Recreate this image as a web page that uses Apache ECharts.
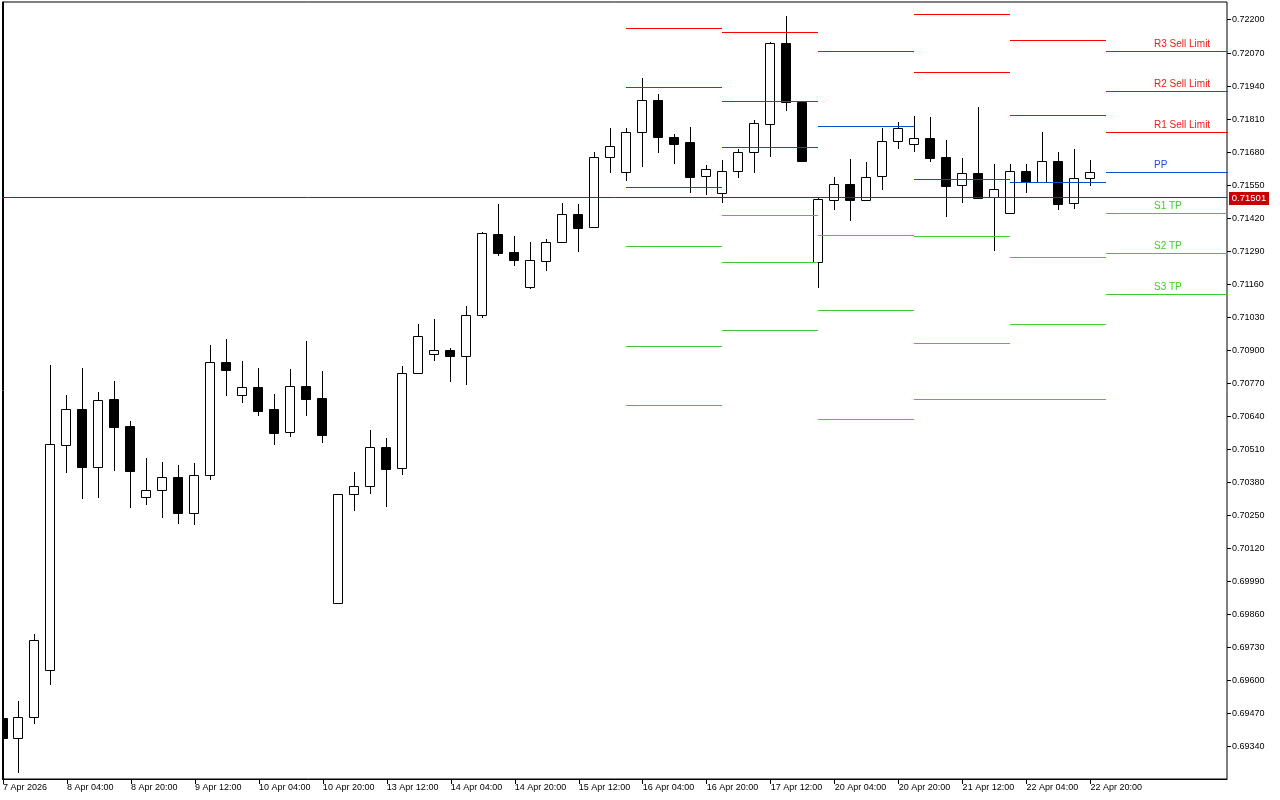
<!DOCTYPE html>
<html>
<head>
<meta charset="utf-8">
<script src="https://cdn.jsdelivr.net/npm/echarts@6/dist/echarts.min.js"></script>
<style>
html,body{margin:0;padding:0;background:#fff;}
#chart{width:1280px;height:800px;}
</style>
</head>
<body>
<div id="chart"></div>
<script>
// H4 bars, index 0 = 7 Apr 2026 12:00
const opens = [0.69453,0.69374,0.69457,0.69642,0.70527,0.70669,0.70443,0.70709,0.70603,0.70322,
  0.70350,0.70402,0.70262,0.70411,0.70853,0.70724,0.70755,0.70669,0.70578,0.70760,
  0.70712,0.69905,0.70334,0.70366,0.70519,0.70436,0.70810,0.70885,0.70901,0.70877,
  0.71038,0.71357,0.71287,0.71151,0.71251,0.71326,0.71436,0.71384,0.71660,0.71601,
  0.71758,0.71884,0.71739,0.71719,0.71585,0.71518,0.71605,0.71680,0.71790,0.72108,
  0.71879,0.71247,0.71491,0.71554,0.71491,0.71585,0.71723,0.71711,0.71735,0.71661,
  0.71550,0.71597,0.71503,0.71440,0.71605,0.71564,0.71644,0.71479,0.71577];
const closes = [0.69374,0.69457,0.69760,0.70531,0.70669,0.70443,0.70704,0.70600,0.70427,0.70350,
  0.70401,0.70262,0.70409,0.70853,0.70824,0.70755,0.70663,0.70576,0.70759,0.70710,
  0.70569,0.70334,0.70366,0.70519,0.70435,0.70810,0.70956,0.70901,0.70879,0.71038,
  0.71361,0.71285,0.71257,0.71255,0.71326,0.71436,0.71383,0.71660,0.71703,0.71758,
  0.71884,0.71739,0.71713,0.71584,0.71613,0.71605,0.71680,0.71794,0.72108,0.71876,
  0.71647,0.71495,0.71554,0.71491,0.71581,0.71723,0.71774,0.71735,0.71658,0.71548,
  0.71597,0.71501,0.71534,0.71605,0.71564,0.71644,0.71477,0.71577,0.71601];
const lows = [0.69374,0.69243,0.69436,0.69589,0.70423,0.70321,0.70325,0.70431,0.70285,0.70297,
  0.70246,0.70222,0.70218,0.70393,0.70726,0.70698,0.70647,0.70533,0.70565,0.70647,
  0.70541,0.69905,0.70274,0.70340,0.70289,0.70415,0.70810,0.70864,0.70781,0.70769,
  0.71033,0.71277,0.71237,0.71147,0.71218,0.71326,0.71292,0.71384,0.71603,0.71572,
  0.71624,0.71682,0.71639,0.71525,0.71517,0.71485,0.71584,0.71603,0.71666,0.71845,
  0.71647,0.71151,0.71458,0.71414,0.71491,0.71536,0.71698,0.71686,0.71647,0.71430,
  0.71485,0.71501,0.71296,0.71440,0.71523,0.71564,0.71458,0.71462,0.71552];
const highs = [0.69453,0.69521,0.69785,0.70843,0.70725,0.70830,0.70737,0.70780,0.70622,0.70477,
  0.70461,0.70449,0.70456,0.70921,0.70945,0.70859,0.70831,0.70729,0.70827,0.70937,
  0.70819,0.70334,0.70421,0.70587,0.70556,0.70839,0.71004,0.71024,0.70909,0.71075,
  0.71365,0.71476,0.71350,0.71327,0.71337,0.71480,0.71476,0.71680,0.71775,0.71775,
  0.71971,0.71909,0.71752,0.71779,0.71630,0.71649,0.71693,0.71807,0.72112,0.72216,
  0.71879,0.71500,0.71582,0.71653,0.71641,0.71775,0.71798,0.71822,0.71818,0.71728,
  0.71657,0.71858,0.71634,0.71634,0.71634,0.71759,0.71681,0.71693,0.71649];

// Daily pivot levels: start bar index of each day, and level values
const pivotDayStart = [39, 45, 51, 57, 63, 69];
const pivotDayEnd   = [45, 51, 57, 63, 69, 80];
const R3 = [0.72562, 0.72330, 0.72801, 0.72642, 0.72384, 0.72077];
const R2 = [0.72167, 0.72152, 0.72506, 0.72220, 0.72120, 0.71920];
const R1 = [0.71935, 0.71880, 0.72077, 0.71995, 0.71825, 0.71758];
const PP = [0.71542, 0.71699, 0.71782, 0.71573, 0.71562, 0.71601];
const S1 = [0.71310, 0.71432, 0.71353, 0.71349, 0.71266, 0.71440];
const S2 = [0.70916, 0.71247, 0.71058, 0.70928, 0.71003, 0.71282];
const S3 = [0.70684, 0.70979, 0.70629, 0.70708, 0.70708, 0.71121];
const levelNames = ['R3 Sell Limit', 'R2 Sell Limit', 'R1 Sell Limit', 'PP', 'S1 TP', 'S2 TP', 'S3 TP'];
const levelColors = ['#ff0000', '#ff0000', '#ff0000', '#0050d0', '#3ccc32', '#3ccc32', '#3ccc32'];
const levelLabelColors = ['#f01818', '#f01818', '#f01818', '#2050d0', '#44cc22', '#44cc22', '#44cc22'];

const currentPrice = 0.71501;

const xTickIdx = [0,4,8,12,16,20,24,28,32,36,40,44,48,52,56,60,64,68];
const xTickLabels = ['7 Apr 2026','8 Apr 04:00','8 Apr 20:00','9 Apr 12:00','10 Apr 04:00','10 Apr 20:00',
  '13 Apr 12:00','14 Apr 04:00','14 Apr 20:00','15 Apr 12:00','16 Apr 04:00','16 Apr 20:00',
  '17 Apr 12:00','20 Apr 04:00','20 Apr 20:00','21 Apr 12:00','22 Apr 04:00','22 Apr 20:00'];
const yTicks = [0.69340,0.69470,0.69600,0.69730,0.69860,0.69990,0.70120,0.70250,0.70380,0.70510,
  0.70640,0.70770,0.70900,0.71030,0.71160,0.71290,0.71420,0.71550,0.71680,0.71810,0.71940,0.72070,0.72200];

const X_MIN = -0.03125, X_MAX = 76.53;
const Y_MIN = 0.692141, Y_MAX = 0.722708;

const candleData = opens.map((o, i) => [i, o, closes[i], lows[i], highs[i]]);
const levels = [R3, R2, R1, PP, S1, S2, S3];
const pivotData = [];
pivotDayStart.forEach((s, d) => {
  levels.forEach((arr, li) => {
    pivotData.push([s, pivotDayEnd[d], arr[d], li, d === pivotDayStart.length - 1 ? 1 : 0]);
  });
});
const yTickData = yTicks.map(v => [X_MAX, v]);

const FONT = '"Liberation Sans", Arial, sans-serif';

function renderCandle(params, api) {
  const i = api.value(0), o = api.value(1), c = api.value(2), l = api.value(3), h = api.value(4);
  const po = api.coord([i, o]), pc = api.coord([i, c]), pl = api.coord([i, l]), ph = api.coord([i, h]);
  const cx = Math.floor(po[0] + 0.001) + 0.5;
  const top = Math.round(Math.min(po[1], pc[1])) + 0.5;
  const bot = Math.round(Math.max(po[1], pc[1])) + 0.5;
  const up = c >= o;
  return {
    type: 'group',
    children: [
      { type: 'line', shape: { x1: cx, y1: Math.round(ph[1]), x2: cx, y2: Math.round(pl[1]) + 1 },
        style: { stroke: '#000', lineWidth: 1 } },
      { type: 'rect', shape: { x: cx - 5, y: top, width: 9, height: Math.max(bot - top, 0) },
        style: { fill: up ? '#ffffff' : '#000000', stroke: '#000', lineWidth: 1 } }
    ]
  };
}

function renderPivot(params, api) {
  const s = api.value(0), e = api.value(1), v = api.value(2), li = api.value(3), last = api.value(4);
  const p1 = api.coord([s, v]), p2 = api.coord([e, v]);
  const y = Math.floor(p1[1]) + 0.5;
  const children = [
    { type: 'line', shape: { x1: Math.floor(p1[0]), y1: y, x2: Math.floor(p2[0]), y2: y },
      style: { stroke: levelColors[li], lineWidth: 1 } }
  ];
  if (last) {
    const pt = api.coord([s + 3, v]);
    children.push({ type: 'text', x: Math.round(pt[0]) - 1, y: y - 2,
      style: { text: levelNames[li], fill: levelLabelColors[li], font: '10px ' + FONT,
        align: 'left', verticalAlign: 'bottom' } });
  }
  return { type: 'group', children };
}

function renderYTick(params, api) {
  const p = api.coord([api.value(0), api.value(1)]);
  const cs = params.coordSys;
  const y = Math.floor(p[1]) + 0.5;
  const x0 = cs.x + cs.width;
  return { type: 'line', shape: { x1: x0, y1: y, x2: x0 + 4, y2: y }, style: { stroke: '#000', lineWidth: 1 } };
}

function renderPrice(params, api) {
  const p = api.coord([api.value(0), api.value(1)]);
  const cs = params.coordSys;
  const y = Math.floor(p[1]) + 0.5;
  const bx = cs.x + cs.width + 2;
  return {
    type: 'group',
    children: [
      { type: 'line', shape: { x1: cs.x, y1: y, x2: cs.x + cs.width, y2: y },
        style: { stroke: '#c00000', lineWidth: 1 } },
      { type: 'rect', shape: { x: bx, y: Math.round(p[1]) - 6, width: 40, height: 13 },
        style: { fill: '#c80000' } },
      { type: 'text', x: bx + 20, y: Math.round(p[1]) + 0.5,
        style: { text: api.value(1).toFixed(5), fill: '#ffffff', font: '9.5px ' + FONT,
          align: 'center', verticalAlign: 'middle' } }
    ]
  };
}

const chart = echarts.init(document.getElementById('chart'), null, { renderer: 'canvas' });
chart.setOption({
  animation: false,
  backgroundColor: '#ffffff',
  grid: { left: 2, right: 53, top: 2, bottom: 21, show: true, borderColor: '#000', borderWidth: 1, backgroundColor: '#fff' },
  xAxis: {
    type: 'value', min: X_MIN, max: X_MAX,
    splitLine: { show: false },
    axisLine: { show: true, lineStyle: { color: '#000', width: 1 } },
    axisTick: { show: true, customValues: xTickIdx, length: 5, lineStyle: { color: '#000' } },
    axisLabel: {
      customValues: xTickIdx, color: '#000', fontSize: 9, fontFamily: FONT, align: 'left',
      margin: 4,
      formatter: v => xTickLabels[xTickIdx.indexOf(Math.round(v))] || ''
    }
  },
  yAxis: {
    type: 'value', position: 'right', min: Y_MIN, max: Y_MAX, scale: true,
    splitLine: { show: false },
    axisLine: { show: true, lineStyle: { color: '#000', width: 1 } },
    axisTick: { show: false },
    axisLabel: {
      customValues: yTicks, color: '#000', fontSize: 9, fontFamily: FONT, margin: 5,
      formatter: v => v.toFixed(5)
    }
  },
  series: [
    { type: 'custom', name: 'candles', renderItem: renderCandle, data: candleData,
      encode: { x: 0, y: [1, 2, 3, 4] }, clip: true, z: 2 },
    { type: 'custom', name: 'pivots', renderItem: renderPivot, data: pivotData,
      encode: { x: [0, 1], y: 2 }, clip: true, z: 3 },
    { type: 'custom', name: 'yTicks', renderItem: renderYTick, data: yTickData,
      encode: { x: 0, y: 1 }, clip: false, z: 4 },
    { type: 'custom', name: 'price', renderItem: renderPrice, data: [[X_MIN, currentPrice]],
      encode: { x: 0, y: 1 }, clip: false, z: 4 }
  ]
});
</script>
</body>
</html>
